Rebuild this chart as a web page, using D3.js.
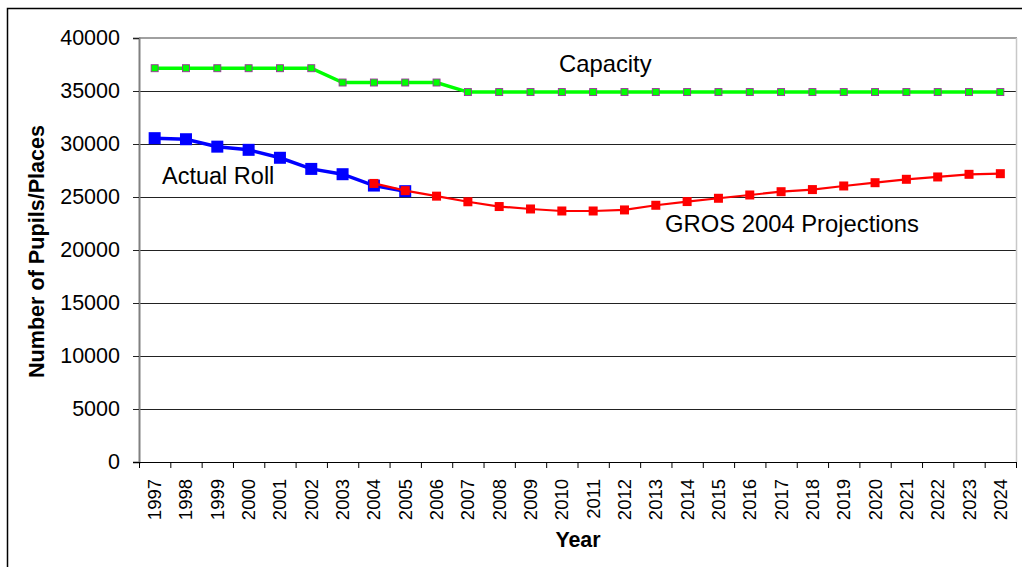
<!DOCTYPE html>
<html><head><meta charset="utf-8">
<script src="https://cdn.jsdelivr.net/npm/d3@7"></script>
<style>
html,body{margin:0;padding:0;background:#fff;}
svg{display:block;font-family:"Liberation Sans",Arial,sans-serif;}
</style></head>
<body>
<svg id="chart" width="1022" height="567"></svg>
<script>
const years = [1997,1998,1999,2000,2001,2002,2003,2004,2005,2006,2007,2008,2009,2010,2011,2012,2013,2014,2015,2016,2017,2018,2019,2020,2021,2022,2023,2024];
const capacity = [37150,37150,37150,37150,37150,37150,35800,35800,35800,35800,34900,34900,34900,34900,34900,34900,34900,34900,34900,34900,34900,34900,34900,34900,34900,34900,34900,34900];
const actualYears = [1997,1998,1999,2000,2001,2002,2003,2004,2005];
const actualRoll = [30550,30450,29750,29450,28700,27650,27150,26080,25550];
const projYears = [2004,2005,2006,2007,2008,2009,2010,2011,2012,2013,2014,2015,2016,2017,2018,2019,2020,2021,2022,2023,2024];
const projections = [26280,25600,25080,24550,24100,23870,23680,23680,23780,24220,24570,24880,25190,25500,25700,26040,26350,26670,26890,27140,27200];
const yTicks = [0,5000,10000,15000,20000,25000,30000,35000,40000];

const svg = d3.select("#chart");
const L = 139, R = 1016, T = 38, B = 462;
const x = d3.scaleBand().domain(years).range([L, R]);
const y = d3.scaleLinear().domain([0, 40000]).range([B, T]);
const cx = d => x(d) + x.bandwidth() / 2;

// outer border
svg.append("path").attr("d", "M7.5,567 V8.5 H1022").attr("fill", "none").attr("stroke", "#000").attr("stroke-width", 1.5);

// gridlines
svg.append("g").selectAll("line").data(yTicks.filter(v => v > 0)).join("line")
  .attr("x1", L).attr("x2", R).attr("y1", d => Math.round(y(d)) + 0.5).attr("y2", d => Math.round(y(d)) + 0.5)
  .attr("stroke", "#222").attr("stroke-width", 1);

// plot border top/right
svg.append("line").attr("x1", L).attr("x2", R + 1).attr("y1", T).attr("y2", T).attr("stroke", "#a0a0a0").attr("stroke-width", 2);
svg.append("line").attr("x1", R + 0.5).attr("x2", R + 0.5).attr("y1", T).attr("y2", B).attr("stroke", "#c8c8c8").attr("stroke-width", 1.5);

// y axis
const yAxis = d3.axisLeft(y).tickValues(yTicks).tickSize(6).tickPadding(13).tickFormat(d3.format("d"));
const gy = svg.append("g").attr("transform", `translate(${L},0)`).call(yAxis);
gy.select(".domain").attr("stroke", "#808080").attr("stroke-width", 2);
gy.selectAll(".tick line").attr("stroke", "#222");
gy.selectAll("text").attr("font-size", 21.5).attr("fill", "#000").attr("font-family", "Liberation Sans, Arial, sans-serif");

// x axis
const gx = svg.append("g").attr("transform", `translate(0,${B})`);
gx.append("line").attr("x1", L - 6).attr("x2", R + 1).attr("y1", 0.5).attr("y2", 0.5).attr("stroke", "#000").attr("stroke-width", 1.2);
gx.selectAll("line.tk").data(years.concat(["end"])).join("line").attr("class", "tk")
  .attr("x1", d => (d === "end" ? R : x(d)) + 0.5).attr("x2", d => (d === "end" ? R : x(d)) + 0.5)
  .attr("y1", 0).attr("y2", 6).attr("stroke", "#000");
gx.selectAll("text").data(years).join("text")
  .attr("transform", d => `translate(${cx(d) + 6.5},17) rotate(-90)`)
  .attr("text-anchor", "end").attr("font-size", 18.5).text(d => d);

// axis titles
svg.append("text").attr("transform", "translate(44,251.5) rotate(-90)").attr("text-anchor", "middle")
  .attr("font-size", 21.6).attr("font-weight", "bold").text("Number of Pupils/Places");
svg.append("text").attr("x", 578).attr("y", 547).attr("text-anchor", "middle")
  .attr("font-size", 21.4).attr("font-weight", "bold").text("Year");

const line = d3.line();

// capacity
svg.append("path").attr("d", line(years.map((d, i) => [cx(d), y(capacity[i])])))
  .attr("fill", "none").attr("stroke", "#00ff00").attr("stroke-width", 3.5);
svg.append("g").selectAll("rect").data(years).join("rect")
  .attr("x", (d) => cx(d) - 3.5).attr("y", (d, i) => y(capacity[i]) - 3.5).attr("width", 7).attr("height", 7)
  .attr("fill", "#00ff00").attr("stroke", "#993399").attr("stroke-width", 0.9);

// actual roll
svg.append("path").attr("d", line(actualYears.map((d, i) => [cx(d), y(actualRoll[i])])))
  .attr("fill", "none").attr("stroke", "#0000ff").attr("stroke-width", 3.5);
svg.append("g").selectAll("rect").data(actualYears).join("rect")
  .attr("x", d => cx(d) - 6).attr("y", (d, i) => y(actualRoll[i]) - 6).attr("width", 12).attr("height", 12)
  .attr("fill", "#0000ff");

// projections
svg.append("path").attr("d", line(projYears.map((d, i) => [cx(d), y(projections[i])])))
  .attr("fill", "none").attr("stroke", "#ff0000").attr("stroke-width", 2.2);
svg.append("g").selectAll("rect").data(projYears).join("rect")
  .attr("x", d => cx(d) - 4.5).attr("y", (d, i) => y(projections[i]) - 4.5).attr("width", 9).attr("height", 9)
  .attr("fill", "#ff0000");

// labels
svg.append("text").attr("x", 559).attr("y", 72).attr("font-size", 23.8).text("Capacity");
svg.append("text").attr("x", 162).attr("y", 184).attr("font-size", 23.5).text("Actual Roll");
svg.append("text").attr("x", 665).attr("y", 232).attr("font-size", 23.8).text("GROS 2004 Projections");
</script>
</body></html>
